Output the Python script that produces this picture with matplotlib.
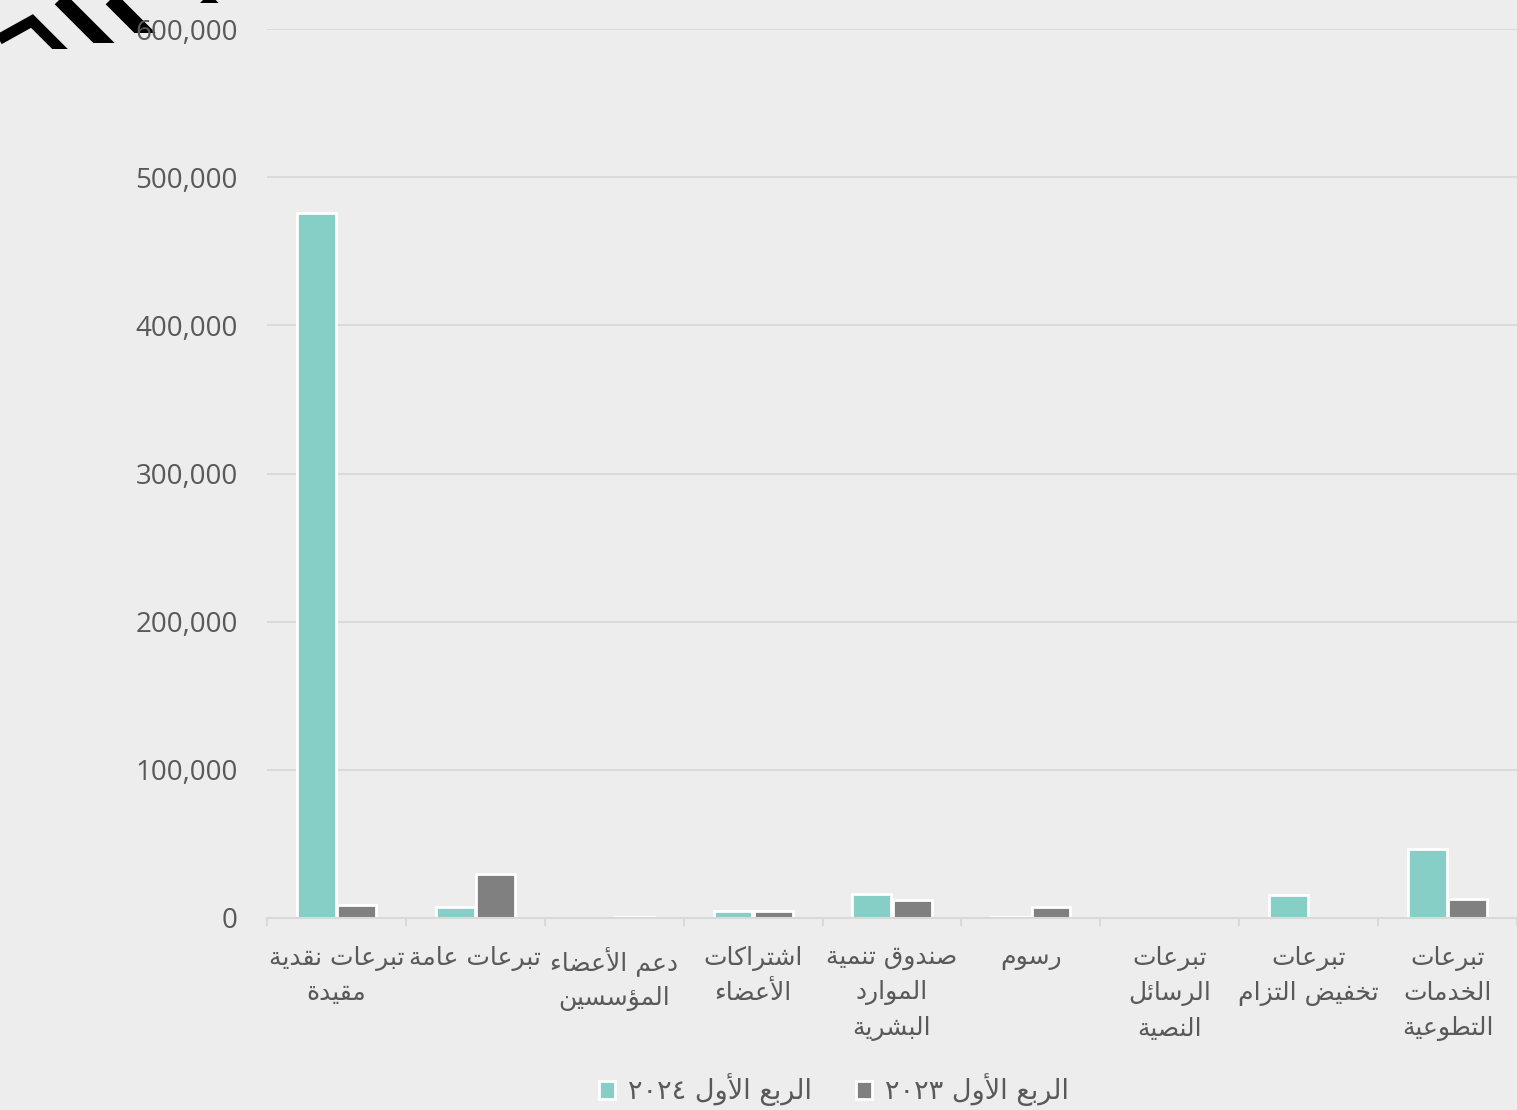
import re
import matplotlib
matplotlib.use("Agg")
import matplotlib.pyplot as plt
import matplotlib.patches as mpatches
from matplotlib.ticker import FuncFormatter
import numpy as np

# data
categories = [
    "تبرعات نقدية\nمقيدة",
    "تبرعات عامة",
    "دعم الأعضاء\nالمؤسسين",
    "اشتراكات\nالأعضاء",
    "صندوق تنمية\nالموارد\nالبشرية",
    "رسوم",
    "تبرعات\nالرسائل\nالنصية",
    "تبرعات\nتخفيض التزام",
    "تبرعات\nالخدمات\nالتطوعية",
]
q1_2024 = [476000, 7200, 0, 5000, 16500, 800, 300, 15200, 46600]
q1_2023 = [8800, 29700, 500, 4700, 12100, 7200, 0, 0, 12800]
series_labels = ["الربع الأول ٢٠٢٤", "الربع الأول ٢٠٢٣"]
y_ticks = [0, 100000, 200000, 300000, 400000, 500000, 600000]

TEAL = "#85CFC6"
GREY = "#808080"
TEXT = "#595959"
LINE = "#D9D9D9"

# --- minimal Arabic shaping (matplotlib has no complex text layout) ---
AR_LETTERS = "ءآأؤإئابةتثجحخدذرزسشصضطظعغفقكلمنهوىي"
AR_NFORMS = [1, 2, 2, 2, 2, 4, 2, 4, 2, 4, 4, 4, 4, 4, 2, 2, 2, 2, 4, 4,
             4, 4, 4, 4, 4, 4, 4, 4, 4, 4, 4, 4, 4, 2, 2, 4]
forms = {}
base = 0xFE80
for ch, n in zip(AR_LETTERS, AR_NFORMS):
    forms[ch] = (base, n)
    base += n
ALEFS = "آأإا"


def shape_line(text):
    out = []
    i = 0
    prev_dual = False
    while i < len(text):
        c = text[i]
        nxt = text[i + 1] if i + 1 < len(text) else ""
        if c == "ل" and nxt and nxt in ALEFS:
            out.append(chr(0xFEF5 + 2 * ALEFS.index(nxt) + (1 if prev_dual else 0)))
            prev_dual = False
            i += 2
            continue
        if c in forms:
            b, n = forms[c]
            nxt_joins = n == 4 and nxt in forms and forms[nxt][1] > 1
            if n == 1:
                k = 0
            elif n == 2:
                k = 1 if prev_dual else 0
            elif prev_dual:
                k = 3 if nxt_joins else 1
            else:
                k = 2 if nxt_joins else 0
            out.append(chr(b + k))
            prev_dual = n == 4
        else:
            out.append(c)
            prev_dual = False
        i += 1
    s = "".join(out)[::-1]
    # digit runs stay left-to-right
    return re.sub("[٠-٩0-9]+", lambda m: m.group(0)[::-1], s)


def ar(text):
    return "\n".join(shape_line(t) for t in text.split("\n"))


W, H = 1517, 1110
fig = plt.figure(figsize=(W / 100, H / 100), dpi=100)
fig.patch.set_facecolor("#EDEDED")

# background layer with the corner logo
bg = fig.add_axes([0, 0, 1, 1])
bg.set_xlim(0, W)
bg.set_ylim(H, 0)
bg.axis("off")
logo = [
    ([0 - 40, 32, 32 + 40], [21 + 40, 21, 21 + 40], 11, 49),
    ([61 - 20, 61 + 60], [-20, 60], 15, 43),
    ([112 - 20, 112 + 60], [-20, 60], 15, 33),
    ([205 - 20, 205 + 40], [-20, 40], 15, 3),
]
for xs, ys, lw, ymax in logo:
    ln, = bg.plot(xs, ys, color="black", lw=lw * 0.72, solid_joinstyle="miter",
                  solid_capstyle="butt")
    ln.set_clip_path(mpatches.Rectangle((0, 0), W, ymax, transform=bg.transData))

ax = fig.add_axes([267 / W, 1 - 918 / H, 1 - 267 / W, (918 - 29) / H])
ax.set_facecolor("none")

x = np.arange(len(categories))
bw = 0.28
ax.bar(x - 0.145, q1_2024, bw, color=TEAL, edgecolor="white",
       linewidth=[2 if v else 0 for v in q1_2024], zorder=2)
ax.bar(x + 0.145, q1_2023, bw, color=GREY, edgecolor="white",
       linewidth=[2 if v else 0 for v in q1_2023], zorder=2)

ax.set_xlim(-0.5, len(categories) - 0.5)
ax.set_ylim(0, 600000)
ax.set_yticks(y_ticks)
ax.yaxis.set_major_formatter(FuncFormatter(lambda v, p: f"{v:,.0f}"))
ax.yaxis.grid(True, color=LINE, lw=1.3)
ax.set_axisbelow(True)
for s in ["top", "right", "left"]:
    ax.spines[s].set_visible(False)
ax.spines["bottom"].set_color(LINE)
ax.spines["bottom"].set_linewidth(1.5)
ax.spines["bottom"].set_zorder(3)

ax.set_xticks(x)
ax.set_xticklabels([ar(c) for c in categories], family="DejaVu Sans",
                   fontsize=18, color=TEXT, linespacing=1.55)
ax.set_xticks(np.arange(-0.5, len(categories), 1), minor=True)
ax.tick_params(axis="x", which="major", length=0, pad=20)
ax.tick_params(axis="x", which="minor", length=6, width=1.5, color=LINE)
ax.tick_params(axis="y", length=0, pad=21, labelsize=20, labelcolor=TEXT)
for lab in ax.get_yticklabels():
    lab.set_family("Open Sans")

handles = [mpatches.Patch(facecolor=TEAL, edgecolor="white", lw=2),
           mpatches.Patch(facecolor=GREY, edgecolor="white", lw=2)]
fig.legend(handles, [ar(s) for s in series_labels], loc="center",
           bbox_to_anchor=(834 / W, 1 - 1090 / H), ncol=2, frameon=False,
           prop={"family": "DejaVu Sans", "size": 19.5}, labelcolor=TEXT,
           handlelength=0.6, handleheight=0.6, handletextpad=0.5,
           columnspacing=1.6)

fig.savefig("out.png", dpi=100, facecolor=fig.get_facecolor())
